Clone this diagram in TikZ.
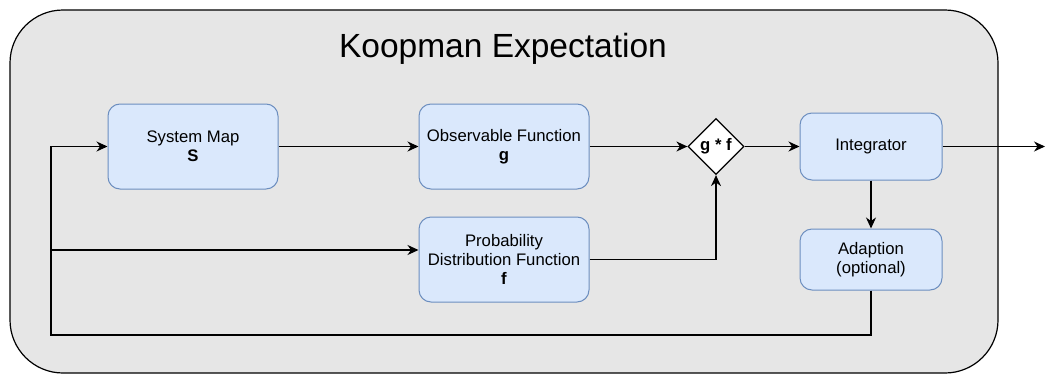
\documentclass[tikz,border=0pt]{standalone}
\usepackage{fontspec}
\setmainfont{Liberation Sans}
\usetikzlibrary{arrows.meta,shapes.geometric}
\definecolor{boxfill}{HTML}{DAE8FC}
\definecolor{boxline}{HTML}{6C8EBF}
\definecolor{panel}{HTML}{E6E6E6}
\begin{document}
\begin{tikzpicture}[x=1pt,y=-1pt,
  blockbox/.style={draw=boxline, fill=boxfill, rounded corners=12pt, line width=1pt,
    align=center, font=\fontsize{16.7}{19}\selectfont, inner sep=0pt},
  conn/.style={line width=1.3pt, line join=miter, -{Stealth[length=11pt,width=10pt,inset=3.5pt]}},
  wire/.style={line width=1.3pt}]
\useasboundingbox (0,0) rectangle (1046,375);
\draw[fill=panel, line width=1.2pt, rounded corners=53pt] (10,10) rectangle (998,373);
\node[anchor=base, font=\fontsize{33.5}{38}\selectfont, inner sep=0pt] (title) at (503,57) {Koopman Expectation};

\node[blockbox, minimum width=170pt, minimum height=85pt] (sys) at (193,146.5) {System Map\\\textbf{S}};
\node[blockbox, minimum width=170pt, minimum height=85pt] (obs) at (504,146.5) {Observable Function\\\textbf{g}};
\node[blockbox, minimum width=170pt, minimum height=85pt] (pdf) at (504,259.5) {Probability\\Distribution Function\\\textbf{f}};
\node[diamond, draw, fill=white, line width=1.2pt, minimum width=56pt, minimum height=56pt,
  inner sep=0pt, font=\bfseries\fontsize{16.7}{19}\selectfont] (prod) at (716,146.5) {g * f};
\node[blockbox, minimum width=142pt, minimum height=67pt] (integ) at (871,146.5) {Integrator};
\node[blockbox, minimum width=142pt, minimum height=61pt] (adapt) at (871,259.5) {Adaption\\(optional)};

\coordinate (out) at (1045,146.5);
\coordinate (fbcorner) at (51,335);
\coordinate (fbtop) at (51,146.5);
\coordinate (br) at (51,250);

\draw[conn] (sys.east) -- (obs.west);
\draw[conn] (obs.east) -- (prod.west);
\draw[conn] (prod.east) -- (integ.west);
\draw[conn] (integ.east) -- (out);
\draw[conn] (integ.south) -- (adapt.north);
\draw[conn] (pdf.east) -| (prod.south);
\draw[conn] (adapt.south) |- (fbcorner) -- (fbtop) -- (sys.west);
\draw[conn] (br) -- (pdf.west |- br);
\end{tikzpicture}
\end{document}
